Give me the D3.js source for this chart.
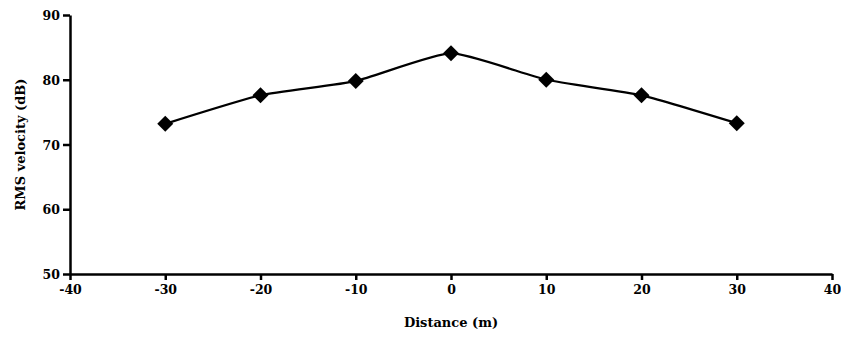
<!DOCTYPE html>
<html>
<head>
<meta charset="utf-8">
<script src="https://cdn.jsdelivr.net/npm/d3@7"></script>
<style>
  html, body { margin: 0; padding: 0; background: #fff; }
  svg text { font-family: "DejaVu Serif", serif; font-weight: bold; fill: #000; }
</style>
</head>
<body>
<svg id="chart" width="841" height="337"></svg>
<script>
// Distance from source (m) and measured RMS velocity (dB)
const distances = [-30, -20, -10, 0, 10, 20, 30];
const rmsVelocity = [73.2, 77.6, 79.8, 84.1, 80.0, 77.6, 73.3];

const xTicks = [-40, -30, -20, -10, 0, 10, 20, 30, 40];
const yTicks = [50, 60, 70, 80, 90];
const xTitle = "Distance (m)";
const yTitle = "RMS velocity (dB)";

const svg = d3.select("#chart");
const plot = { left: 70, right: 832, top: 15, bottom: 274 };

const x = d3.scaleLinear().domain([-40, 40]).range([plot.left, plot.right]);
const y = d3.scaleLinear().domain([50, 90]).range([plot.bottom, plot.top]);

// Axes (plain hyphen for negative labels)
const fmt = d => String(d);
const xAxis = d3.axisBottom(x).tickValues(xTicks).tickFormat(fmt).tickSize(6).tickSizeOuter(0).tickPadding(5);
const yAxis = d3.axisLeft(y).tickValues(yTicks).tickFormat(fmt).tickSize(7).tickSizeOuter(0).tickPadding(3);

const gx = svg.append("g").attr("transform", `translate(0,${plot.bottom})`).call(xAxis);
const gy = svg.append("g").attr("transform", `translate(${plot.left},0)`).call(yAxis);

[gx, gy].forEach(g => {
  g.select(".domain").attr("stroke", "#000").attr("stroke-width", 2.5);
  g.selectAll(".tick line").attr("stroke", "#000").attr("stroke-width", 2.5);
  g.selectAll(".tick text")
    .attr("font-family", "DejaVu Serif, serif")
    .attr("font-weight", "bold")
    .attr("font-size", 12.5)
    .attr("fill", "#000");
});
gy.selectAll(".tick text").attr("dy", "0.36em");

// Axis titles
svg.append("text")
  .attr("x", (plot.left + plot.right) / 2)
  .attr("y", 327)
  .attr("text-anchor", "middle")
  .attr("font-size", 13)
  .text(xTitle);

svg.append("text")
  .attr("transform", `translate(25,${(plot.top + plot.bottom) / 2}) rotate(-90)`)
  .attr("text-anchor", "middle")
  .attr("font-size", 13)
  .text(yTitle);

// Data line, lightly smoothed
const pts = distances.map((d, i) => [d, rmsVelocity[i]]);
const line = d3.line()
  .x(d => x(d[0]))
  .y(d => y(d[1]))
  .curve(d3.curveCardinal.tension(0.5));

svg.append("path")
  .datum(pts)
  .attr("fill", "none")
  .attr("stroke", "#000")
  .attr("stroke-width", 2.3)
  .attr("d", line);

// Diamond markers
const r = 8;
svg.append("g").selectAll("path")
  .data(pts)
  .join("path")
  .attr("transform", d => `translate(${x(d[0])},${y(d[1])})`)
  .attr("d", `M0,${-r}L${r},0L0,${r}L${-r},0Z`)
  .attr("fill", "#000");
</script>
</body>
</html>
